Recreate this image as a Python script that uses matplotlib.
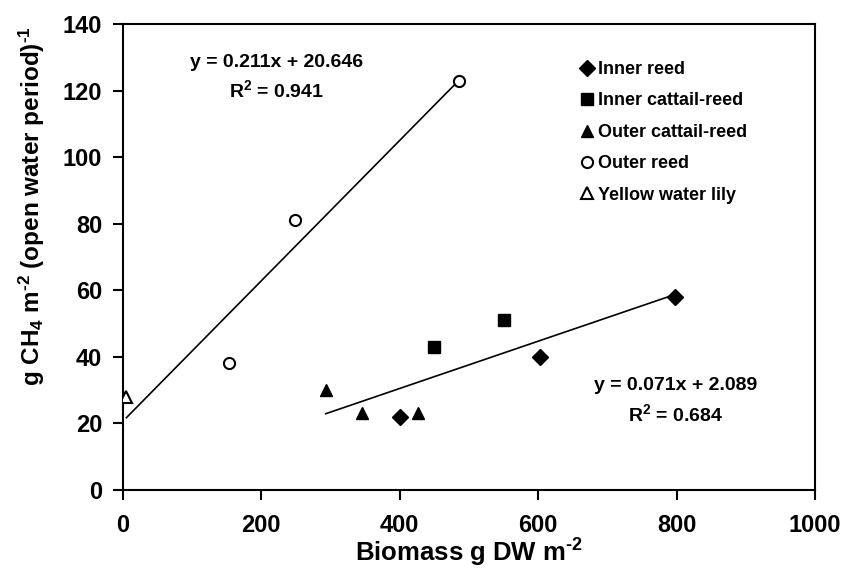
import numpy as np
import matplotlib
matplotlib.use('Agg')
import matplotlib.pyplot as plt

plt.rcParams['font.family'] = ['Liberation Sans', 'DejaVu Sans']
plt.rcParams['font.weight'] = 'bold'
plt.rcParams['mathtext.fontset'] = 'custom'
plt.rcParams['mathtext.rm'] = 'Liberation Sans:bold'
plt.rcParams['mathtext.it'] = 'Liberation Sans:bold'
plt.rcParams['mathtext.bf'] = 'Liberation Sans:bold'
plt.rcParams['mathtext.default'] = 'rm'

# data
inner_reed_x = [400, 602, 797]
inner_reed_y = [22, 40, 58]
inner_cattail_x = [450, 550]
inner_cattail_y = [43, 51]
outer_cattail_x = [293, 345, 427]
outer_cattail_y = [30, 23, 23]
outer_reed_x = [153, 248, 485]
outer_reed_y = [38, 81, 123]
lily_x = [5]
lily_y = [28]

# trend lines (slope, intercept, x range)
fit1 = (0.211, 20.646, 5, 485)
fit2 = (0.071, 2.089, 293, 797)
eq1 = ['y = 0.211x + 20.646', 'R$^{2}$ = 0.941']
eq2 = ['y = 0.071x + 2.089', 'R$^{2}$ = 0.684']

fig = plt.figure(figsize=(8.42, 5.71), dpi=100)
ax = fig.add_axes([0.146, 0.142, 0.822, 0.816])

for slope, icpt, x0, x1 in (fit1, fit2):
    xs = np.array([x0, x1])
    ax.plot(xs, slope * xs + icpt, color='black', linewidth=1.2, zorder=2)

ax.plot(inner_reed_x, inner_reed_y, 'D', color='black', markersize=8,
        linestyle='none', label='Inner reed', zorder=3)
ax.plot(inner_cattail_x, inner_cattail_y, 's', color='black', markersize=8,
        linestyle='none', label='Inner cattail-reed', zorder=3)
ax.plot(outer_cattail_x, outer_cattail_y, '^', color='black', markersize=9,
        linestyle='none', label='Outer cattail-reed', zorder=3)
ax.plot(outer_reed_x, outer_reed_y, 'o', mfc='white', mec='black', mew=1.5,
        markersize=8, linestyle='none', label='Outer reed', zorder=3)
ax.plot(lily_x, lily_y, '^', mfc='white', mec='black', mew=1.5,
        markersize=9, linestyle='none', label='Yellow water lily', zorder=3)

ax.text(222, 128.5, eq1[0], ha='center', va='center', fontsize=14, fontweight='bold')
ax.text(222, 120, eq1[1], ha='center', va='center', fontsize=14, fontweight='bold')
ax.text(798, 31.5, eq2[0], ha='center', va='center', fontsize=14, fontweight='bold')
ax.text(798, 22.8, eq2[1], ha='center', va='center', fontsize=14, fontweight='bold')

ax.set_xlim(0, 1000)
ax.set_ylim(0, 140)
ax.set_xticks(np.arange(0, 1001, 200))
ax.set_yticks(np.arange(0, 141, 20))
ax.tick_params(direction='out', length=7, width=1.5, labelsize=17)
ax.tick_params(axis='x', pad=10)
ax.tick_params(axis='y', pad=8)
for lab in ax.get_xticklabels() + ax.get_yticklabels():
    lab.set_fontweight('bold')
for sp in ax.spines.values():
    sp.set_linewidth(1.5)

ax.set_xlabel('Biomass g DW m$^{\u20102}$', fontsize=18.5, fontweight='bold', labelpad=0)
ax.set_ylabel('g CH$_{4}$ m$^{\u20102}$ (open water period)$^{\u20101}$', fontsize=17.5,
              fontweight='bold')
ax.yaxis.set_label_coords(-0.11, 0.61)

ax.legend(loc='upper left', bbox_to_anchor=(0.68, 0.909), bbox_transform=fig.transFigure,
          frameon=False, handlelength=0.6, handletextpad=0.3,
          labelspacing=0.8, borderpad=0, prop={'weight': 'bold', 'size': 13})

fig.savefig('out.png', dpi=100)
